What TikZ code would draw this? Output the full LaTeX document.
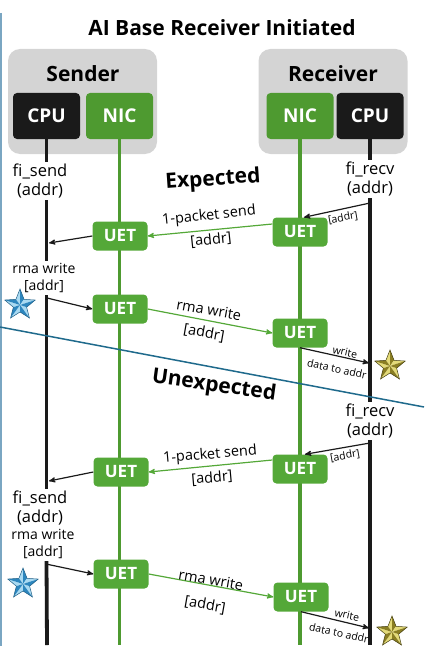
\documentclass[tikz,border=0pt]{standalone}
\usepackage{fontspec}
\setmainfont{Open Sans}
\usepackage{tikz}
\usetikzlibrary{arrows}
\usetikzlibrary{shapes.geometric}

\definecolor{hostgray}{HTML}{D4D4D4}
\definecolor{nicgreen}{HTML}{4E9A30}
\definecolor{uetgreen}{HTML}{54A838}
\definecolor{cpublack}{HTML}{1A1A1A}
\definecolor{edgeblue}{HTML}{7AA6C2}
\definecolor{splitblue}{HTML}{1F6A8C}
\definecolor{bluelight}{HTML}{A9DAF2}
\definecolor{bluedark}{HTML}{2C86BE}
\definecolor{goldlight}{HTML}{E3DA78}
\definecolor{golddark}{HTML}{8A7E22}

\tikzset{
  hostbox/.style={fill=hostgray, rounded corners=12pt, minimum width=149pt, minimum height=105pt, inner sep=0pt},
  hosttext/.style={font=\fontsize{21}{24}\selectfont\bfseries},
  cpubox/.style={fill=cpublack, text=white, rounded corners=4pt, minimum width=67pt, minimum height=46pt, inner sep=0pt, font=\fontsize{19}{22}\selectfont\bfseries},
  nicbox/.style={cpubox, fill=nicgreen},
  uetbox/.style={fill=uetgreen, text=white, rounded corners=4pt, minimum width=55pt, minimum height=29pt, inner sep=0pt, font=\fontsize{17}{20}\selectfont\bfseries},
  calltext/.style={align=center, inner sep=2pt, font=\fontsize{16.5}{18.5}\selectfont},
  rmatext/.style={align=center, inner sep=2pt, font=\fontsize{14}{17.5}\selectfont},
  msgtext/.style={font=\fontsize{14.5}{16}\selectfont, inner sep=0pt},
  smalltext/.style={font=\fontsize{10.5}{12}\selectfont, inner sep=0pt},
  phasetext/.style={font=\fontsize{21}{23}\selectfont\bfseries},
  cpuline/.style={line width=3.8pt, cpublack},
  nicline/.style={line width=3.2pt, nicgreen},
  cpuarrow/.style={->, line width=1.2pt, cpublack},
  nicarrow/.style={->, line width=1.2pt, uetgreen},
  starmark/.style={star, star points=5, star point ratio=2.3, minimum size=31pt, inner sep=0pt}
}

% bevelled star on a named star node: #1 node, #2 light, #3 dark, #4 edge
\newcommand{\facetstar}[4]{%
  \foreach \i [evaluate=\i as \j using {int(mod(\i+3,5)+1)}] in {1,...,5} {
    \fill[#2] (#1.center) -- (#1.outer point \i) -- (#1.inner point \i) -- cycle;
    \fill[#3] (#1.center) -- (#1.outer point \i) -- (#1.inner point \j) -- cycle;
    \draw[#4, line width=0.5pt] (#1.inner point \j) -- (#1.outer point \i) -- (#1.inner point \i);
  }%
}

\begin{document}
\begin{tikzpicture}[x=1pt,y=-1pt,>=stealth']
\useasboundingbox (0,0) rectangle (424,666);
\draw[edgeblue, line width=1.5pt] (1,13) -- (1,646);

% Title
\node[hosttext] (title) at (222,28) {AI Base Receiver Initiated};

% Sender host
\node[hostbox] (sender) at (82.5,101.5) {};
\node[hosttext] (senderlbl) at (83,74) {Sender};
\node[cpubox] (cpuS) at (46.5,116) {CPU};
\node[nicbox] (nicS) at (119.5,116) {NIC};

% Receiver host
\node[hostbox] (receiver) at (333,101.5) {};
\node[hosttext] (receiverlbl) at (333,74) {Receiver};
\node[nicbox] (nicR) at (300,116) {NIC};
\node[cpubox] (cpuR) at (370,116) {CPU};

% CPU calls
\node[calltext] (sendA) at (40,181) {fi\_send\\(addr)};
\node[rmatext] (rmaA) at (44,278) {rma write\\{[addr]}};
\node[calltext] (sendB) at (40,508) {fi\_send\\(addr)};
\node[rmatext] (rmaB) at (43,544) {rma write\\{[addr]}};
\node[calltext] (recvA) at (370,179) {fi\_recv\\(addr)};
\node[calltext] (recvB) at (370,421) {fi\_recv\\(addr)};
\coordinate (endS) at (47,645);
\coordinate (endR) at (370,645);
\coordinate (endNS) at (119.5,645);
\coordinate (endNR) at (300,645);

% Lifelines
\draw[cpuline] (cpuS.south) -- (sendA.north -| cpuS.south);
\draw[cpuline] (sendA.south -| cpuS.south) -- (rmaA.north -| cpuS.south);
\draw[cpuline] (rmaA.south -| cpuS.south) -- (sendB.north -| cpuS.south);
\draw[cpuline] (rmaB.south -| cpuS.south) -- (endS);
\draw[cpuline] (cpuR.south) -- (recvA.north -| cpuR.south);
\draw[cpuline] (recvA.south -| cpuR.south) -- (recvB.north -| cpuR.south);
\draw[cpuline] (recvB.south -| cpuR.south) -- (endR);
\draw[nicline] (nicS.south) -- (endNS);
\draw[nicline] (nicR.south) -- (endNR);

% Expected / Unexpected split
\coordinate (splitL) at (0,327);
\coordinate (splitR) at (424,407);
\draw[splitblue, line width=1.5pt] (splitL) -- (splitR);
\node[phasetext, rotate=4] (expected) at (213,180) {Expected};
\node[phasetext, rotate=-8] (unexpected) at (214,386) {Unexpected};

% Expected
\node[uetbox] (uR1) at (300,232) {UET};
\node[uetbox] (uS1) at (120,236) {UET};
\node[uetbox] (uS2) at (120,309) {UET};
\node[uetbox] (uR2) at (300,333) {UET};
\coordinate (r1) at (370,203);
\coordinate (s1) at (49,243);
\coordinate (s2) at (47,298);
\coordinate (r2) at (369,363);
\draw[cpuarrow] (r1) -- ([xshift=4pt]uR1.north);
\node[smalltext, rotate=10] (addrR1) at (343,218) {[addr]};
\draw[nicarrow] ([yshift=8pt]uR1.west) -- (uS1.east);
\node[msgtext, rotate=6] (sendlblA) at (209,216) {1-packet send};
\node[msgtext, rotate=6] (addrlblA) at (211,240) {[addr]};
\draw[cpuarrow] (uS1.west) -- (s1);
\draw[cpuarrow] (s2) -- (uS2.west);
\draw[nicarrow] (uS2.east) -- (uR2.west);
\node[msgtext, rotate=-10] (rmalblA) at (209,310) {rma write};
\node[msgtext, rotate=-10] (addrlblB) at (204,333) {[addr]};
\draw[cpuarrow] (uR2.south) -- (r2);
\node[smalltext, rotate=-12] (writeA) at (345,352) {write};
\node[smalltext, rotate=-12] (dataA) at (337,369) {data to addr};
\node[starmark] (starS1) at (20,305) {};
\facetstar{starS1}{bluelight}{bluedark}{bluedark!70!black}
\node[starmark] (starR1) at (390,366) {};
\facetstar{starR1}{goldlight}{golddark}{golddark!50!black}

% Unexpected
\node[uetbox] (uR3) at (300,469) {UET};
\node[uetbox] (uS3) at (121,472) {UET};
\node[uetbox] (uS4) at (121,574) {UET};
\node[uetbox] (uR4) at (301,597) {UET};
\coordinate (r3) at (370,443);
\coordinate (s3) at (49,481);
\coordinate (s4) at (46,564);
\coordinate (r4) at (369,628);
\draw[cpuarrow] (r3) -- ([xshift=5pt]uR3.north);
\node[smalltext, rotate=10] (addrR3) at (345,456) {[addr]};
\draw[nicarrow] ([yshift=9pt]uR3.west) -- (uS3.east);
\node[msgtext, rotate=5] (sendlblB) at (210,455) {1-packet send};
\node[msgtext, rotate=5] (addrlblC) at (212,478) {[addr]};
\draw[cpuarrow] (uS3.west) -- (s3);
\draw[cpuarrow] (s4) -- (uS4.west);
\draw[nicarrow] (uS4.east) -- (uR4.west);
\node[msgtext, rotate=-10] (rmalblB) at (211,580) {rma write};
\node[msgtext, rotate=-10] (addrlblD) at (205,605) {[addr]};
\draw[cpuarrow] (uR4.south) -- (r4);
\node[smalltext, rotate=-12] (writeB) at (347,615) {write};
\node[smalltext, rotate=-12] (dataB) at (339,633) {data to addr};
\node[starmark] (starS2) at (23,584) {};
\facetstar{starS2}{bluelight}{bluedark}{bluedark!70!black}
\node[starmark] (starR2) at (392,632) {};
\facetstar{starR2}{goldlight}{golddark}{golddark!50!black}
\end{tikzpicture}
\end{document}
